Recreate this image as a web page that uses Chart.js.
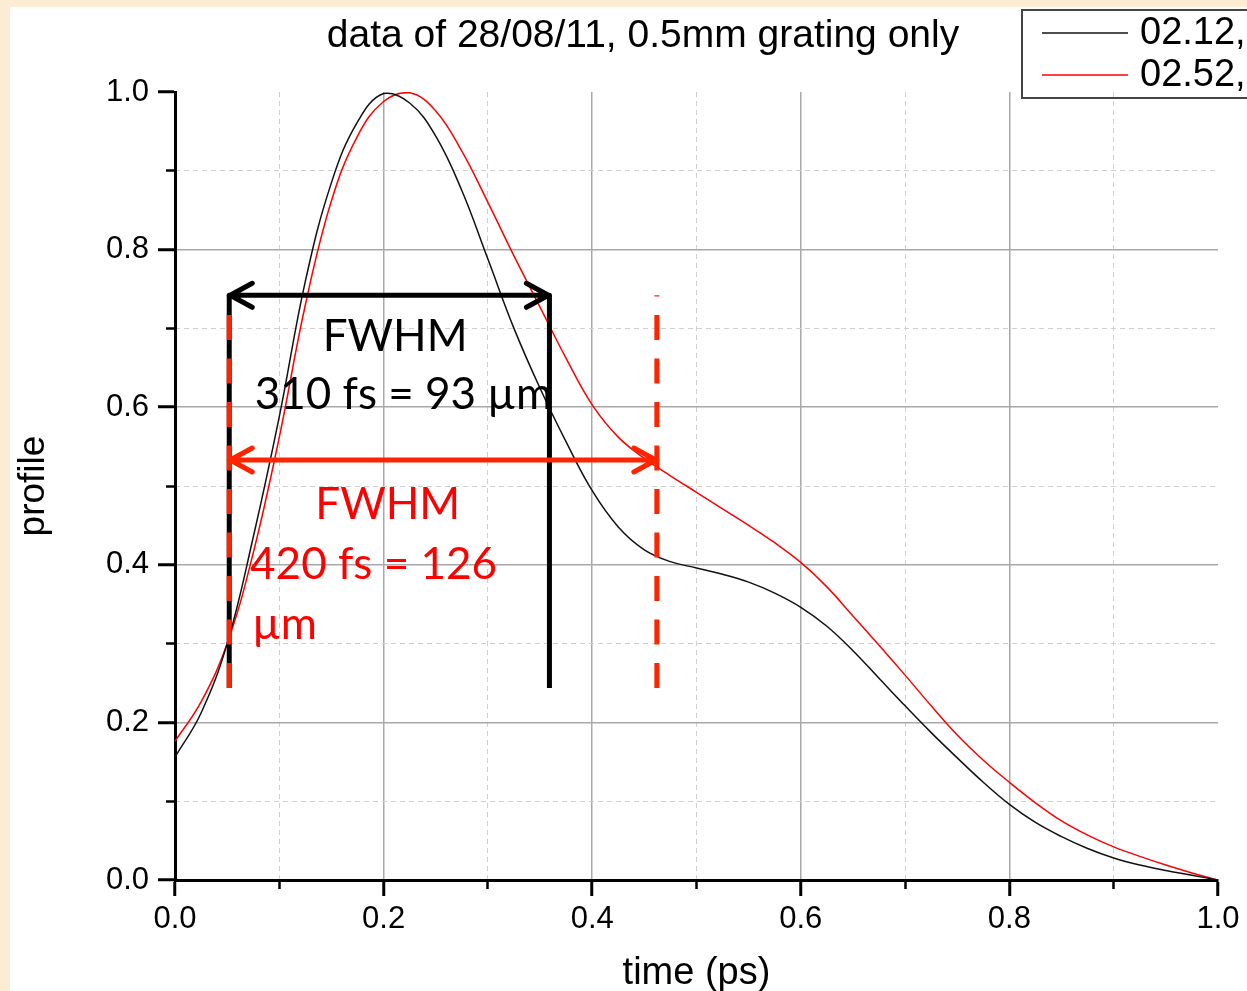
<!DOCTYPE html>
<html>
<head>
<meta charset="utf-8">
<script src="https://cdn.jsdelivr.net/npm/chart.js@4"></script>
<style>
  html, body { margin: 0; padding: 0; background: #fbecd3; }
  #wrap { position: absolute; left: 10px; top: 7px; width: 1237px; height: 984px; background: #fff; }
</style>
</head>
<body>
<div id="wrap"><canvas id="myChart"></canvas></div>
<script>
// temps (ps)
const time = [0, 0.025, 0.05, 0.075, 0.1, 0.125, 0.15, 0.175, 0.2, 0.225,
  0.25, 0.275, 0.3, 0.325, 0.35, 0.375, 0.4, 0.425, 0.45, 0.475,
  0.5, 0.525, 0.55, 0.575, 0.6, 0.625, 0.65, 0.675, 0.7, 0.725,
  0.75, 0.775, 0.8, 0.825, 0.85, 0.875, 0.9, 0.925, 0.95, 0.975, 1.0];

// profil noir (02.12)
const profileBlack = [0.156, 0.212, 0.30, 0.435, 0.588, 0.76, 0.885, 0.962, 0.998, 0.986,
  0.944, 0.875, 0.788, 0.70, 0.624, 0.556, 0.494, 0.448, 0.419, 0.404,
  0.396, 0.388, 0.378, 0.364, 0.346, 0.322, 0.291, 0.256, 0.221, 0.187,
  0.155, 0.124, 0.096, 0.073, 0.055, 0.04, 0.028, 0.019, 0.012, 0.006, 0];

// profil rouge (02.52)
const profileRed = [0.176, 0.226, 0.30, 0.415, 0.562, 0.73, 0.862, 0.944, 0.988, 0.999,
  0.976, 0.925, 0.86, 0.792, 0.727, 0.662, 0.603, 0.562, 0.535, 0.513,
  0.492, 0.471, 0.45, 0.428, 0.403, 0.372, 0.335, 0.298, 0.26, 0.221,
  0.184, 0.152, 0.124, 0.098, 0.075, 0.057, 0.042, 0.03, 0.019, 0.009, 0];

const seriesLabels = ['02.12,', '02.52,'];
const tickLabels = ['0.0', '0.2', '0.4', '0.6', '0.8', '1.0'];
const chartTitle = 'data of 28/08/11, 0.5mm grating only';

// FWHM annotations (data units)
const fwhmBlack = { from: 0.052, to: 0.359, level: 0.742, bottom: 0.2437 };
const fwhmRed = { from: 0.052, to: 0.462, level: 0.533, top: 0.742, bottom: 0.2437 };

const RED_MARK = '#ff2400';

const isMajor = v => Math.abs(v) < 1e-9 || Math.abs(v - 1) < 1e-9;
const isOdd = v => Math.round(v * 10) % 2 === 1;

//Dessin des annotations, titre et légende
const overlay = {
    id: 'overlay',
    afterDatasetsDraw(chart) {
        const {ctx, scales: {x, y}} = chart;
        const px = v => x.getPixelForValue(v);
        const py = v => y.getPixelForValue(v);

        const arrow = (x1, x2, yy, color) => {
            ctx.save();
            ctx.strokeStyle = color;
            ctx.lineWidth = 5;
            ctx.lineCap = 'round';
            ctx.lineJoin = 'round';
            ctx.beginPath();
            ctx.moveTo(x1, yy); ctx.lineTo(x2, yy);
            ctx.moveTo(x1 + 23, yy - 12); ctx.lineTo(x1 + 1, yy); ctx.lineTo(x1 + 23, yy + 12);
            ctx.moveTo(x2 - 23, yy - 12); ctx.lineTo(x2 - 1, yy); ctx.lineTo(x2 - 23, yy + 12);
            ctx.stroke();
            ctx.restore();
        };
        const vline = (xx, yTop, yBot, color, dash) => {
            ctx.save();
            ctx.strokeStyle = color;
            ctx.lineWidth = 5;
            ctx.setLineDash(dash || []);
            ctx.beginPath();
            ctx.moveTo(xx, yBot); ctx.lineTo(xx, yTop);
            ctx.stroke();
            ctx.restore();
        };

        const xl = px(fwhmBlack.from), xb = px(fwhmBlack.to), xr = px(fwhmRed.to);
        const yTop = py(fwhmBlack.level), yBot = py(fwhmBlack.bottom);

        vline(xl, yTop, yBot, '#000');
        vline(xl, yTop, yBot, RED_MARK, [25, 18.5]);
        vline(xb, yTop, yBot, '#000');
        vline(xr, py(fwhmRed.top), py(fwhmRed.bottom), RED_MARK, [25, 18.5]);
        arrow(xl, xb, yTop, '#000');
        arrow(xl, xr, py(fwhmRed.level), RED_MARK);

        ctx.save();
        ctx.font = '44px Lato';
        ctx.textBaseline = 'middle';
        ctx.fillStyle = '#000';
        ctx.textAlign = 'center';
        ctx.fillText('FWHM', px(0.211), py(0.689));
        ctx.fillText('310 fs = 93 µm', px(0.219), py(0.6155));
        ctx.fillStyle = '#ff0000';
        ctx.fillText('FWHM', px(0.204), py(0.476));
        ctx.textAlign = 'left';
        ctx.fillText('420 fs = 126', px(0.072), py(0.40));
        ctx.fillText('µm', px(0.074), py(0.324));
        ctx.restore();
    },
    afterDraw(chart) {
        const {ctx} = chart;
        ctx.save();
        // titre
        ctx.font = '39px "Liberation Sans"';
        ctx.fillStyle = '#000';
        ctx.textAlign = 'center';
        ctx.textBaseline = 'middle';
        ctx.fillText(chartTitle, 633, 29);
        // légende
        ctx.strokeStyle = '#444';
        ctx.lineWidth = 2;
        ctx.strokeRect(1012, 3, 300, 88);
        ctx.font = '38px "Liberation Sans"';
        chart.data.datasets.forEach((ds, i) => {
            const yy = 26 + i * 42;
            ctx.strokeStyle = ds.borderColor;
            ctx.lineWidth = 1.5;
            ctx.beginPath();
            ctx.moveTo(1032, yy); ctx.lineTo(1118, yy);
            ctx.stroke();
            ctx.fillStyle = '#000';
            ctx.textAlign = 'left';
            ctx.fillText(ds.label, 1130, yy + 1);
        });
        ctx.restore();
    }
};

const tickFont = { family: '"Liberation Sans"', size: 31 };

const data = {
    datasets: [{
        label: seriesLabels[0],
        data: time.map((t, i) => ({ x: t, y: profileBlack[i] })),
        borderColor: '#111111',
        borderWidth: 1.5,
        pointRadius: 0,
        tension: 0.4
    }, {
        label: seriesLabels[1],
        data: time.map((t, i) => ({ x: t, y: profileRed[i] })),
        borderColor: '#ff0000',
        borderWidth: 1.5,
        pointRadius: 0,
        tension: 0.4
    }]
};

const config = {
    type: 'line',
    data,
    options: {
        responsive: true,
        maintainAspectRatio: false,
        animation: false,
        layout: { padding: { top: 85, right: 29, left: 0, bottom: 0 } },
        plugins: { legend: { display: false }, tooltip: { enabled: false } },
        scales: {
            x: {
                type: 'linear', min: 0, max: 1, position: 'bottom',
                afterFit: s => { s.height = 111; },
                ticks: {
                    stepSize: 0.2, color: '#000', font: tickFont, padding: 5, maxRotation: 0,
                    callback: (v) => tickLabels[Math.round(v * 5)]
                },
                grid: {
                    color: c => isMajor(c.tick.value) ? 'rgba(0,0,0,0)' : '#a8a8a8',
                    lineWidth: 1.5, tickColor: '#000', tickWidth: 3, tickLength: 16
                },
                border: { display: true, color: '#000', width: 3 },
                title: {
                    display: true, text: 'time (ps)', color: '#000',
                    font: { family: '"Liberation Sans"', size: 38, lineHeight: 1 },
                    padding: { top: 0, bottom: -2 }
                }
            },
            xMinor: {
                type: 'linear', min: 0, max: 1, position: 'bottom', weight: -1,
                afterFit: s => { s.height = 0; },
                ticks: { stepSize: 0.1, display: false },
                grid: {
                    color: c => isOdd(c.tick.value) ? '#d0d0d0' : 'rgba(0,0,0,0)',
                    lineWidth: 1,
                    tickColor: c => isOdd(c.tick.value) ? '#000' : 'rgba(0,0,0,0)',
                    tickWidth: 2.5, tickLength: 9
                },
                border: { display: false, dash: [5, 4] }
            },
            y: {
                type: 'linear', min: 0, max: 1, position: 'left',
                afterFit: s => { s.width = 165; },
                ticks: {
                    stepSize: 0.2, color: '#000', font: tickFont, padding: 9,
                    callback: (v) => tickLabels[Math.round(v * 5)]
                },
                grid: {
                    color: c => isMajor(c.tick.value) ? 'rgba(0,0,0,0)' : '#a8a8a8',
                    lineWidth: 1.5, tickColor: '#000', tickWidth: 3, tickLength: 17
                },
                border: { display: true, color: '#000', width: 3 },
                title: {
                    display: true, text: 'profile', color: '#000',
                    font: { family: '"Liberation Sans"', size: 37, lineHeight: 1 },
                    padding: { top: 5, bottom: 0 }
                }
            },
            yMinor: {
                type: 'linear', min: 0, max: 1, position: 'left', weight: -1,
                afterFit: s => { s.width = 0; },
                ticks: { stepSize: 0.1, display: false },
                grid: {
                    color: c => isOdd(c.tick.value) ? '#d0d0d0' : 'rgba(0,0,0,0)',
                    lineWidth: 1,
                    tickColor: c => isOdd(c.tick.value) ? '#000' : 'rgba(0,0,0,0)',
                    tickWidth: 2.5, tickLength: 9
                },
                border: { display: false, dash: [5, 4] }
            }
        }
    },
    plugins: [overlay]
};

//créer une instance graphique
const mychart = new Chart(document.getElementById('myChart'), config);
</script>
</body>
</html>
